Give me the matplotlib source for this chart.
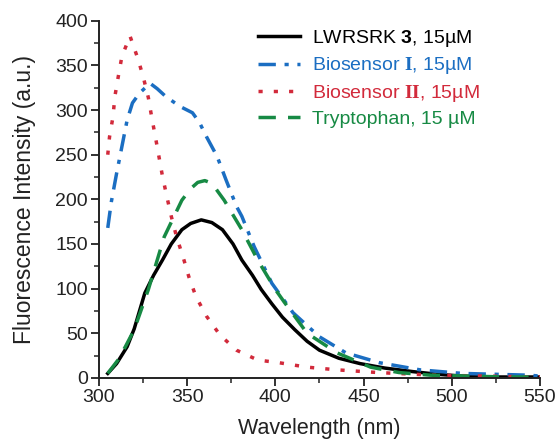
import matplotlib
matplotlib.use('Agg')
from matplotlib import pyplot as plt
from matplotlib.ticker import MultipleLocator

# LWRSRK 3
wl_k = [305, 310, 316, 320, 326, 331, 336, 341, 347, 352, 358, 364, 370, 376, 381, 387, 392, 398, 404, 411, 418, 425, 436, 448, 462, 478, 492, 506, 525, 550]
int_k = [5, 16, 35, 55, 95, 115, 132, 150, 166, 173, 177, 174, 166, 150, 132, 115, 99, 83, 68, 54, 41, 31, 22, 16, 11, 7, 4, 2, 1, 1]

# Biosensor I
wl_b1 = [305, 307, 310, 313, 316, 319, 323, 329, 333, 338, 346, 353, 357, 361, 367, 372, 378, 381, 388, 398, 410, 425, 440, 459, 482, 506, 525, 544, 550]
int_b1 = [168, 197, 229, 259, 289, 308, 319, 330, 324, 315, 304, 297, 286, 270, 248, 222, 192, 181, 147, 106, 73, 46, 28, 17, 9, 5, 4, 3, 2]

# Biosensor II
wl_b2 = [305, 306, 308, 309, 311, 313, 317.6, 322, 325, 328, 330, 332, 334, 336, 338.5, 341, 344, 347.6, 351, 355, 361, 368.6, 378, 390, 402, 418, 435, 458, 490, 520, 550]
int_b2 = [250, 270, 293, 315, 338, 360, 383, 358, 338, 314, 291, 270, 248, 226, 203, 181, 158, 136, 113, 91, 69, 48, 31, 20, 17, 12, 9, 6, 3, 2, 1]

# Tryptophan
wl_t = [305, 310.8, 315, 320, 328, 337, 347, 352, 356, 360, 364, 371, 381, 390, 400, 405, 418, 435, 454, 470, 488, 510, 530, 550]
int_t = [5, 20, 35, 54, 99, 158, 199, 212, 219, 221, 218, 199, 166, 132, 99, 85, 50, 28, 12, 6, 3, 2, 1, 1]

plt.rcParams['font.family'] = ['Liberation Sans', 'DejaVu Sans']
plt.rcParams['mathtext.fontset'] = 'custom'
plt.rcParams['mathtext.bf'] = 'Liberation Serif:bold'
plt.rcParams['mathtext.sf'] = 'Liberation Sans:bold'

fig = plt.figure(figsize=(5.59, 4.43), dpi=100)
ax = fig.add_axes([0.177, 0.147, 0.789, 0.806])

c_blue = '#1b6ec2'
c_red = '#d22a3b'
c_green = '#178a44'

ax.plot(wl_k, int_k, '-', color='black', lw=2.5, label=r'LWRSRK $\mathsf{3}$, 15µM')
ax.plot(wl_b1, int_b1, color=c_blue, lw=2.5, dashes=(5, 2.5, 1.2, 2.5), label=r'Biosensor $\mathbf{I}$, 15µM')
ax.plot(wl_b2, int_b2, color=c_red, lw=2.5, dashes=(1.2, 3.2), label=r'Biosensor $\mathbf{II}$, 15µM')
ax.plot(wl_t, int_t, color=c_green, lw=2.5, dashes=(5, 3.5), label='Tryptophan, 15 µM')

ax.set_xlim(300, 550)
ax.set_ylim(0, 400)
ax.xaxis.set_major_locator(MultipleLocator(50))
ax.xaxis.set_minor_locator(MultipleLocator(25))
ax.yaxis.set_major_locator(MultipleLocator(50))
ax.yaxis.set_minor_locator(MultipleLocator(25))
ax.tick_params(which='major', direction='out', length=6, width=1.3, labelsize=14, colors='#222222', pad=2)
ax.tick_params(which='minor', direction='out', length=3.5, width=1.1, colors='#222222')
for side in ['top', 'right']:
    ax.spines[side].set_visible(False)
for side in ['left', 'bottom']:
    ax.spines[side].set_linewidth(1.4)
    ax.spines[side].set_color('#222222')

ax.set_xlabel('Wavelength (nm)', fontsize=15.5, color='#222222', labelpad=9)
ax.set_ylabel('Fluorescence Intensity (a.u.)', fontsize=16.5, color='#222222', labelpad=14)

ax.legend(loc='upper left', frameon=False, fontsize=14, handlelength=2.15,
          handletextpad=0.65, labelspacing=0.33, borderaxespad=0, borderpad=0,
          labelcolor=['black', c_blue, c_red, c_green],
          bbox_to_anchor=(0.36, 0.98))

plt.savefig('out.png', dpi=100)
plt.close()
